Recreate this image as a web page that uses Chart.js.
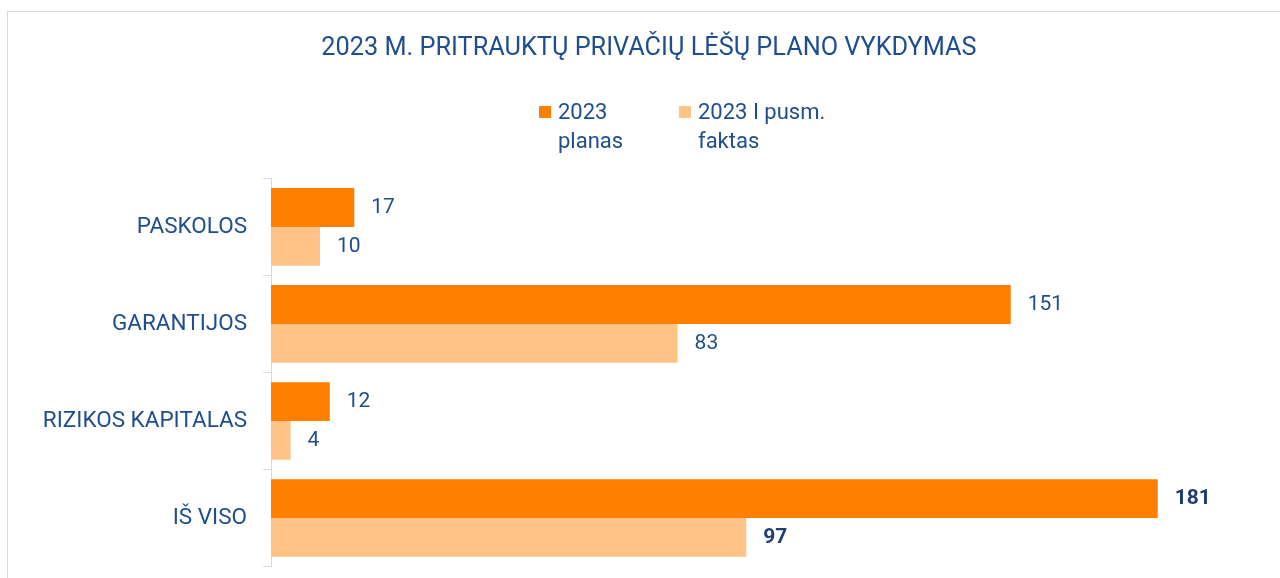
<!DOCTYPE html>
<html>
<head>
<meta charset="utf-8">
<script src="https://cdn.jsdelivr.net/npm/chart.js@4"></script>
<style>
  html, body { margin: 0; padding: 0; background: #fff; overflow: hidden; }
  #box {
    position: absolute; left: 7px; top: 11px;
    width: 1282px; height: 600px;
    border: 1px solid #d9d9d9; background: #fff;
  }
  #wrap { position: relative; width: 1282px; height: 584px; }
</style>
</head>
<body>
<div id="box"><div id="wrap"><canvas id="myChart"></canvas></div></div>
<script>
// data
const categories = ['PASKOLOS', 'GARANTIJOS', 'RIZIKOS KAPITALAS', 'IŠ VISO'];
const planValues = [17, 151, 12, 181];
const factValues = [10, 83, 4, 97];
const seriesNames = ['2023 planas', '2023 I pusm. faktas'];
const legendLines = [['2023', 'planas'], ['2023 I pusm.', 'faktas']];
const chartTitle = '2023 M. PRITRAUKTŲ PRIVAČIŲ LĖŠŲ PLANO VYKDYMAS';

const textBlue = '#1f4e8c';
const boldBlue = '#1f3f73';
const fontName = 'Roboto';

// value labels next to bar ends, last category in bold
const valueLabels = {
    id: 'valueLabels',
    afterDatasetsDraw(chart) {
        const ctx = chart.ctx;
        ctx.save();
        ctx.textAlign = 'left';
        ctx.textBaseline = 'middle';
        chart.data.datasets.forEach((ds, di) => {
            const meta = chart.getDatasetMeta(di);
            meta.data.forEach((bar, i) => {
                const last = i === categories.length - 1;
                ctx.font = (last ? 'bold ' : '') + '21px ' + fontName;
                ctx.fillStyle = last ? boldBlue : textBlue;
                ctx.fillText(String(ds.data[i]), bar.x + 17, bar.y);
            });
        });
        ctx.restore();
    }
};

// two-line legend drawn between title and plot
const twoLineLegend = {
    id: 'twoLineLegend',
    afterDraw(chart) {
        const ctx = chart.ctx;
        const cx = chart.width / 2;
        const y0 = 101;
        ctx.save();
        ctx.font = '22px ' + fontName;
        ctx.textAlign = 'left';
        ctx.textBaseline = 'middle';
        chart.data.datasets.forEach((ds, i) => {
            const x = cx - 110 + i * 140;
            ctx.fillStyle = ds.backgroundColor;
            ctx.fillRect(x, y0 - 7, 12, 12);
            ctx.fillStyle = textBlue;
            legendLines[i].forEach((line, j) => {
                ctx.fillText(line, x + 19, y0 + j * 29);
            });
        });
        ctx.restore();
    }
};

const ctx = document.getElementById('myChart').getContext('2d');
const chart = new Chart(ctx, {
    type: 'bar',
    data: {
        labels: categories,
        datasets: [{
            label: seriesNames[0],
            backgroundColor: '#ff7f00',
            data: planValues,
        }, {
            label: seriesNames[1],
            backgroundColor: '#ffc387',
            data: factValues,
        }]
    },
    options: {
        indexAxis: 'y',
        responsive: true,
        maintainAspectRatio: false,
        animation: false,
        datasets: {
            bar: { categoryPercentage: 0.8, barPercentage: 1.0 }
        },
        layout: { padding: { left: 0, right: 0, top: 0, bottom: 3 } },
        scales: {
            x: { display: false, min: 0, max: 208 },
            y: {
                afterFit(scale) { scale.width = 263; },
                border: { color: '#d9d9d9', width: 1 },
                grid: { offset: true, drawOnChartArea: false, tickLength: 8, color: '#d9d9d9' },
                ticks: { padding: 16, color: textBlue, font: { family: fontName, size: 22.5 } }
            }
        },
        plugins: {
            title: {
                display: true,
                text: chartTitle,
                color: textBlue,
                font: { family: fontName, size: 25.3, weight: 'normal', lineHeight: 1.2 },
                padding: { top: 21, bottom: 115 }
            },
            legend: { display: false },
            tooltip: { enabled: false }
        }
    },
    plugins: [valueLabels, twoLineLegend]
});
</script>
</body>
</html>
